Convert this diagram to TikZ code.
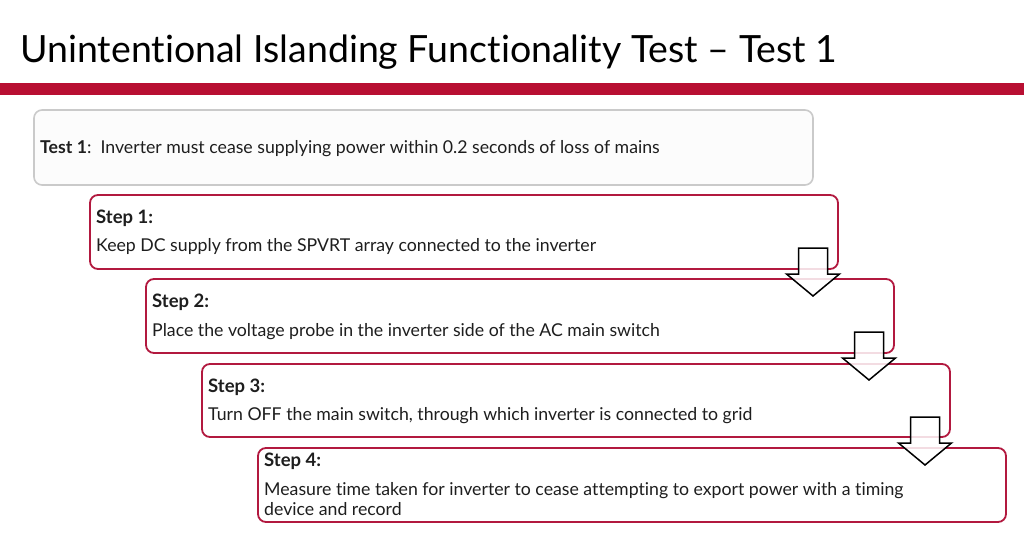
\documentclass[tikz,border=0pt]{standalone}
\usepackage{fontspec}
\setmainfont{Lato}[Ligatures={NoCommon}]
\definecolor{barred}{HTML}{B80F32}
\definecolor{boxred}{HTML}{B2193F}
\definecolor{boxgray}{HTML}{CACACA}
\definecolor{txt}{HTML}{1E1E1E}
\tikzset{
  testbox/.style={draw=boxgray, line width=1.6pt, fill=black!1, rounded corners=8pt},
  stepbox/.style={draw=boxred, line width=1.8pt, fill=white, rounded corners=8pt},
  bodytext/.style={anchor=base west, inner sep=0pt, text=txt, font=\fontsize{17.7}{21}\selectfont},
  headtext/.style={anchor=base west, inner sep=0pt, text=txt, font=\fontsize{18.5}{22}\selectfont\bfseries},
  blockarrow/.style={draw=black, line width=1.5pt, fill=white, fill opacity=0.85, line join=miter},
  downarrow/.pic={\path[blockarrow] (-14.5,0) -- (14.5,0) -- (14.5,26) -- (26.5,26) -- (0,48) -- (-26.5,26) -- (-14.5,26) -- cycle;}
}
\begin{document}
\begin{tikzpicture}[x=1pt,y=-1pt]
\useasboundingbox (0,0) rectangle (1024,538);
% title and bar
\node[anchor=base west, inner sep=0pt, text=black, font=\fontsize{37.5}{44}\selectfont] (title) at (20,62) {Unintentional Islanding Functionality Test -- Test 1};
\fill[barred] (0,83) rectangle (1024,95);
% test box
\draw[testbox] (34,110) rectangle (813,185);
\node[anchor=base west, inner sep=0pt, text=txt, font=\fontsize{17.7}{21}\selectfont] (test) at (40,153) {\textbf{Test 1}:\ \ Inverter must cease supplying power within 0.2 seconds of loss of mains};
% step boxes
\draw[stepbox] (90,195) rectangle (838,269);
\node[headtext] (s1h) at (96,223) {Step 1:};
\node[bodytext] (s1b) at (96,251) {Keep DC supply from the SPVRT array connected to the inverter};
\draw[stepbox] (146,279) rectangle (894,353);
\node[headtext] (s2h) at (152,307) {Step 2:};
\node[bodytext] (s2b) at (152,336) {Place the voltage probe in the inverter side of the AC main switch};
\draw[stepbox] (202,364) rectangle (950,437);
\node[headtext] (s3h) at (208,392) {Step 3:};
\node[bodytext] (s3b) at (208,420) {Turn OFF the main switch, through which inverter is connected to grid};
\draw[stepbox] (258,448) rectangle (1006,522);
\node[headtext] (s4h) at (264,466) {Step 4:};
\node[bodytext] (s4b) at (264,495) {Measure time taken for inverter to cease attempting to export power with a timing};
\node[bodytext] (s4c) at (264,515) {device and record};
% arrows
\pic at (813,248) {downarrow};
\pic at (869,332) {downarrow};
\pic at (925,417) {downarrow};
\end{tikzpicture}
\end{document}
